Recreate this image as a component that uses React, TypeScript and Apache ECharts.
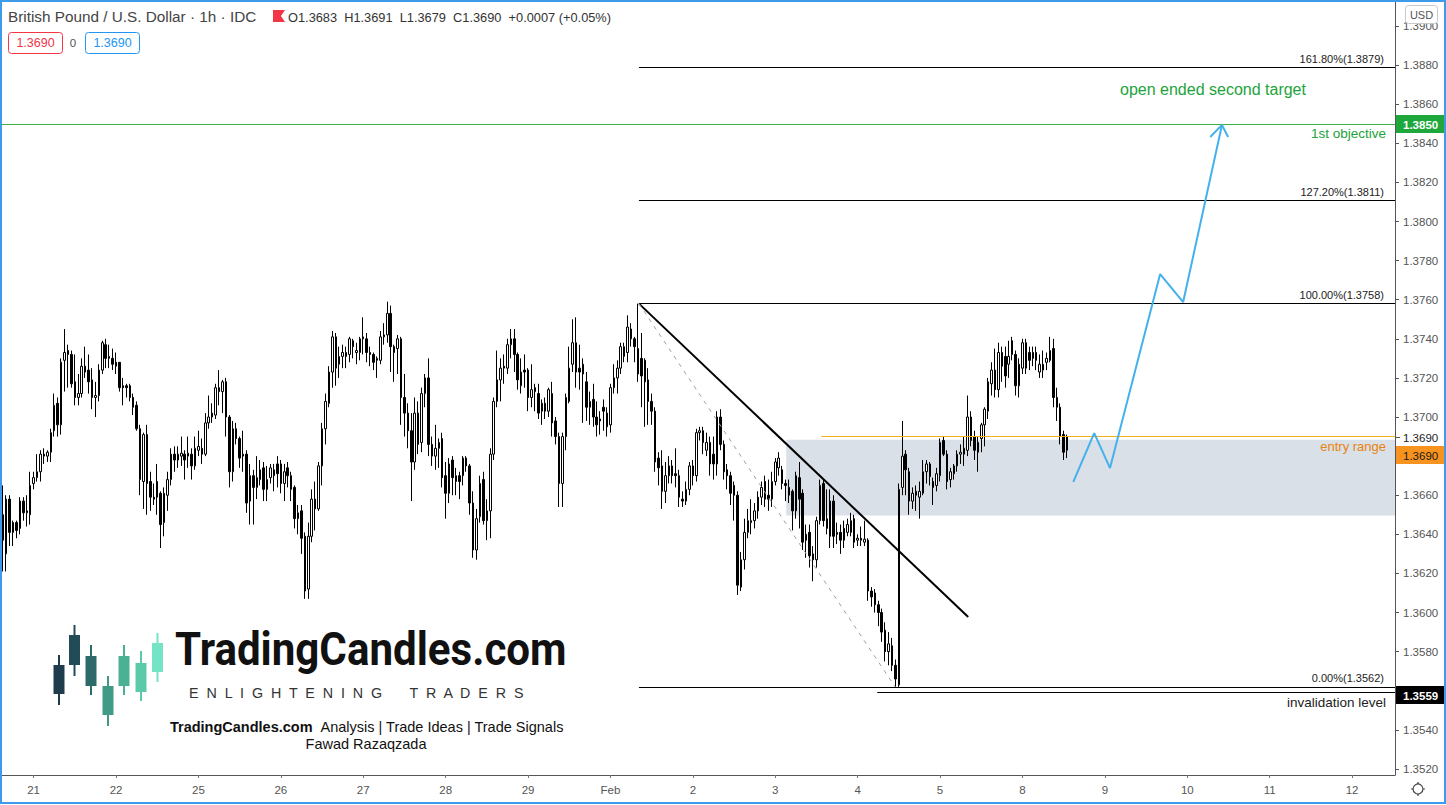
import React, { useEffect, useRef } from "react";
import * as echarts from "echarts";

// Candle = [open, close, low, high] in pips above BASE
type Candle = [number, number, number, number];
const BASE = 1.35;

const jan20: Candle[] = [
  [150,137,121,165],[130,158,121,160],[158,141,134,160],[146,141,134,147],[146,142,138,147],
  [143,157,140,159],[157,151,147,159],[151,152,144,160],[150,165,145,172],
];
const jan21: Candle[] = [
  [166,169,163,172],[169,172,167,181],[172,181,167,183],[181,180,176,184],[180,182,177,183],
  [182,192,177,194],[193,206,190,212],[207,196,190,210],[196,228,191,230],[229,233,213,245],
  [234,232,215,237],[232,217,215,234],[218,210,206,232],[210,212,206,222],[212,226,210,230],
  [226,223,220,236],[224,218,212,232],[219,210,204,225],[210,211,200,218],[211,224,208,227],
  [224,238,222,239],[237,230,225,240],[230,231,225,237],[230,227,224,235],
];
const jan22: Candle[] = [
  [228,226,222,233],[228,215,213,228],[216,215,206,220],[216,215,210,217],[216,210,208,217],
  [210,205,201,212],[206,194,193,208],[194,168,160,196],[167,191,153,192],[191,166,150,196],
  [167,159,152,172],[159,158,155,166],[167,159,150,176],[161,145,133,162],[146,161,139,164],
  [160,168,152,172],[168,181,165,184],[181,178,172,185],[178,181,174,185],[180,181.5,175,190],
  [181,178,168,183],[180,181.5,174,190],[181,175,168,184],[175,184,173,190],
];
const jan25: Candle[] = [
  [183,185,180,193],[184,181,176,189],[181,197,180,202],[197,200,194,211],[200,202,197,207],
  [201,215,199,217],[215,213,206,224],[213,218,202,219],[218,200,190,220],[200,172,164,201],
  [172,194,167,198],[194,189,186,197],[189,179,174,190],[180,181,172,193],[181,156,151,183],
  [157,170,145,176],[170,164,145,173],[164,169,158,180],[168,173,165,178],[174,163,157,177],
  [163,168,157,175],[169,174,166,176],[170,173,162,176],[176,171,164,180],
];
const jan26: Candle[] = [
  [176,166,161,178],[166,172,157,176],[174,170,164,177],[170,163,157,172],[164,148,143,165],
  [148,151,140,155],[152,138,130,155],[139,111,107,141],[112,139,107,146],[139,158,136,163],
  [158,153,142,167],[153,175,152,177],[175,194,165,197],[194,208,186,212],[207,223,205,226],
  [223,241,215,244],[241,225,216,243],[227,231,220,236],[231,233,225,237],[233,231,225,236],
  [232,240,228,241],[239,236,230,240],[233,234,227,238],[233,240,229,241],
];
const jan27: Candle[] = [
  [240,241,232,251],[240,233,228,243],[233,232,226,236],[232,228,224,233],[229,230,220,231],
  [229,241,227,244],[241,242,237,248],[242,253,238,259],[253,236,223,257],[236,233,218,237],
  [235,240,222,242],[240,210,196,241],[210,202,190,222],[202,193,184,207],[193,177,157,202],
  [177,202,173,210],[202,186,181,208],[187,212,182,215],[212,220,205,222],[220,186,180,230],
  [186,180,175,190],[180,184,173,196],[184,187,174,189],[189,169,164,192],
];
const jan28: Candle[] = [
  [170,161,148,177],[161,176,156,179],[178,169,160,180],[167,170,160,174],[170,167,158,172],
  [170,179,165,180],[179,175,172,180],[175,156,150,176],[156,132,128,162],[132,148,127,153],
  [149,166,146,170],[168,147,145,172],[147,152,137,158],[152,181,138,184],[181,208,178,210],
  [208,219,205,234],[219,225,208,230],[225,226,217,232],[225,237,222,240],[237,240,230,245],
  [240,232,223,245],[232,219,214,233],[216,223,212,230],[224,223,215,232],
];
const jan29: Candle[] = [
  [224,210,203,225],[210,214,205,227],[215,213,203,217],[212,202,199,217],[207,203,196,209],
  [207,203,199,210],[203,214,200,215],[212,197,190,218],[198,190,186,200],[190,166,154,192],
  [166,190,154,192],[190,210,183,212],[208,225,207,236],[227,238,223,250],[238,223,215,251],
  [225,223,214,237],[227,222,197,230],[218,205,198,223],[205,208,196,213],[209,200,195,217],
  [200,196,190,208],[198,199,191,203],[205,203,193,209],[202,195,190,205],
];
const feb1: Candle[] = [
  [196,215,192,217],[215,220,212,227],[220,225,212,229],[225,236,222,238],[231,236,228,238],
  [233,246,228,252],[245,240,236,248],[240,236,228,241],[235,222,218,258],[230,221,205,243],
  [229,218,195,230],[219,208,196,225],[208,203,196,212],[203,177,172,205],[179,174,165,182],
  [175,162,153,183],[162,170,156,177],[170,175,166,180],[175,170,166,178],[171,170,164,184],
  [170,159,154,173],[158,157,154,162],[157,163,155,167],[163,175,160,177],
];
const feb2: Candle[] = [
  [175,170,165,178],[170,192,167,194],[192,193,188,195],[193,187,181,195],[183,187,180,192],
  [187,176,170,190],[181,176,168,190],[176,200,170,203],[200,186,183,204],[186,172,168,188],
  [173,170,163,176],[170,161,155,172],[165,160,147,167],[160,114,109,162],[113,127,111,131],
  [127,141,122,148],[141,147,138,153],[146,147,140,158],[147,152,143,156],[152,159,148,162],
  [159,164,155,167],[167,158,154,170],[160,158,152,168],[158,167,154,172],
];
const feb3: Candle[] = [
  [167,177,165,179],[174,179,170,182],[173,166,163,175],[166,165,157,168],[164,160,156,168],
  [162,152,142,163],[152,170,148,172],[169,158,143,177],[161,136,132,163],[140,137,128,145],
  [141,129,123,145],[130,127,116,134],[127,147,123,149],[147,165,145,168],[166,147,144,168],
  [143,148,140,163],[157,139,133,163],[157,139,133,160],[140,141,135,146],[141,137,130,145],
  [143,137,133,147],[141,145,139,148],[141,147,139,151],[148,136,133,150],
];
const feb4: Candle[] = [
  [137,138,134,140],[138,137,134,144],[136,137.5,134,147],[137,111,106,138],[111,108,103,113],
  [110,104,100,112],[104,100,93,106],[100,90,85,102],[91,80,75,95],[80,84,73,90],
  [83,73,70,87],[73,66,62,76],[63,163,62,166],[164,180,160,198],[181,173,160,183],
  [172,157,150,174],[157,161,153,164],[162,160,152,165],[159,162,148,167],[161,172,160,178],
  [172,176,166,178],[176,169.5,165,177],[167,164,155,169],[165,171,162,174],
];
const feb5: Candle[] = [
  [170,187,167,189],[188,181,180,190],[181,167,163,183],[168,172,164,174],[171,175,168,176],
  [175,181,172,183],[181,182,176,186],[184,181,175,190],[183,200,180,211],[200,188,185,203],
  [190,183,178,193],[187,182,172,190],[189,196,182,197],[196,204,185,205],[203,218,199,220],
  [217,224,211,228],[224,214,210,235],[214,233,210,238],[233,226,218,236],[231,221,215,236],
  [227,231,220,239],[239,232,229,241],[232,216,211,234],[216,227,210,230],
];
const feb8: Candle[] = [
  [225,238,222,240],[238,225,222,240],[233,229,224,236],[233,230,226,236],[233,229,224,236],
  [223,227,220,232],[224,227,220,234],[228,230,224,233],[229,234,228,241],[235,210,205,240],
  [210,205,198,215],[205,190,186,207],[191,182,178,193],[183,190,179,191],
];

// Time axis: one slot per hour, trading days only, first slot is 20th 15:00
const dayNames = ["20","21","22","25","26","27","28","29","Feb","2","3","4","5","8","9","10","11","12","15"];
const FIRST_HOUR = 15;
const SLOTS = 406;

// Y axis
const Y_MIN = 1.35169;
const Y_MAX = 1.39133;
const hiddenTicks = ["1.3680", "1.3560"];

// Drawings (x in slot units, y in price)
const X_END = 405.5;
const fibStart = 185.3;
const fibLevels: [string, number][] = [
  ["161.80%(1.3879)", 1.3879],
  ["127.20%(1.3811)", 1.3811],
  ["100.00%(1.3758)", 1.3758],
  ["0.00%(1.3562)", 1.3562],
];
const objectivePrice = 1.385;
const entryPrice = 1.369;
const entryStart = 238.4;
const zoneTop = 1.36884;
const zoneBottom = 1.36496;
const zoneStart = 228.2;
const invalidationPrice = 1.3559;
const invalidationStart = 254.7;
const trendline: [number, number][] = [[185.3, 1.3758], [281.2, 1.35977]];
const swingDash: [number, number][] = [[185.3, 1.3758], [259.9, 1.3562]];
const projection: [number, number][] = [
  [311.8, 1.36668], [317.9, 1.36918], [322.5, 1.36739],
  [337.1, 1.37731], [343.8, 1.37588], [355.1, 1.38494],
];
const arrowHead: [number, number][] = [[351.7, 1.38432], [355.1, 1.38494], [356.9, 1.38432]];

const FONT = "'Liberation Sans', Arial, sans-serif";

const logoCandles: [number, number, number, number, number, string][] = [
  [59, 655, 705, 665, 694, "#1e3c4b"],
  [74.5, 625, 676, 635, 665, "#224b58"],
  [91, 645, 695, 656, 686, "#2d6a6a"],
  [108, 676, 726, 686, 715, "#3f9a86"],
  [124, 645, 695, 656, 686, "#4bb194"],
  [141, 651, 701, 663, 692, "#5ccaa8"],
  [157.5, 633, 682, 643, 672, "#74e3c6"],
];

function buildOption(): any {
  const all = [...jan20, ...jan21, ...jan22, ...jan25, ...jan26, ...jan27, ...jan28, ...jan29,
    ...feb1, ...feb2, ...feb3, ...feb4, ...feb5, ...feb8];
  const toPrice = (p: number) => +(BASE + p / 10000).toFixed(5);
  const candleData = all.map(([o, c, l, h]) => [toPrice(o), toPrice(c), toPrice(l), toPrice(h)]);
  const categories = Array.from({ length: SLOTS }, (_, i) => {
    const t = i + FIRST_HOUR;
    return `${dayNames[Math.floor(t / 24)]} ${String(t % 24).padStart(2, "0")}:00`;
  });
  const isDayStart = (index: number) => (index + FIRST_HOUR) % 24 === 0;

  const hLine = (x1: number, price: number, color: string, label: string, pos: string, lc: string, fs: number, dist: number[]) => [
    {
      coord: [x1, price],
      lineStyle: { color, width: 1, type: "solid" },
      label: { show: !!label, position: pos, formatter: label, color: lc, fontSize: fs, fontFamily: FONT, distance: dist },
    },
    { coord: [X_END, price] },
  ];

  const markLines = [
    ...fibLevels.map(([t, p]) => hLine(fibStart, p, "#000000", t, "insideEndTop", "#222222", 11, [11, 3])),
    hLine(-0.5, objectivePrice, "#3cb043", "1st objective", "insideEndBottom", "#22a33a", 13.5, [9, 3]),
    hLine(entryStart, entryPrice, "#f2b01e", "entry range", "insideEndBottom", "#e8830f", 13, [9, 3]),
    hLine(invalidationStart, invalidationPrice, "#000000", "invalidation level", "insideEndBottom", "#222222", 13.5, [9, 3]),
  ];

  const graphic: any[] = [];
  // Header
  graphic.push({ type: "text", x: 8, y: 16, z: 100, style: { text: "British Pound / U.S. Dollar · 1h · IDC", fill: "#444", fontSize: 15.3, fontFamily: FONT, verticalAlign: "middle" } });
  graphic.push({ type: "polygon", z: 100, shape: { points: [[273, 10], [285, 10], [281, 16], [285, 22], [273, 22]] }, style: { fill: "#f23645" } });
  graphic.push({ type: "text", x: 288, y: 17, z: 100, style: { text: "O1.3683  H1.3691  L1.3679  C1.3690  +0.0007 (+0.05%)", fill: "#333", fontSize: 12.8, fontFamily: FONT, verticalAlign: "middle" } });
  graphic.push({ type: "rect", z: 100, shape: { x: 8.5, y: 32.5, width: 54, height: 21, r: 3 }, style: { fill: "#fff", stroke: "#f23645", lineWidth: 1 } });
  graphic.push({ type: "text", x: 35.5, y: 43, z: 101, style: { text: "1.3690", fill: "#f23645", fontSize: 12.5, fontFamily: FONT, align: "center", verticalAlign: "middle" } });
  graphic.push({ type: "text", x: 73, y: 43, z: 101, style: { text: "0", fill: "#555", fontSize: 11.5, fontFamily: FONT, align: "center", verticalAlign: "middle" } });
  graphic.push({ type: "rect", z: 100, shape: { x: 85.5, y: 32.5, width: 54, height: 21, r: 3 }, style: { fill: "#fff", stroke: "#2196f3", lineWidth: 1 } });
  graphic.push({ type: "text", x: 112.5, y: 43, z: 101, style: { text: "1.3690", fill: "#2196f3", fontSize: 12.5, fontFamily: FONT, align: "center", verticalAlign: "middle" } });

  // Chart notes
  graphic.push({ type: "text", x: 1213, y: 89, z: 100, style: { text: "open ended second target", fill: "#22a33a", fontSize: 16, fontFamily: FONT, align: "center", verticalAlign: "middle" } });

  // Axis boxes
  graphic.push({ type: "rect", z: 100, shape: { x: 1405.5, y: 5.5, width: 32, height: 18, r: 3 }, style: { fill: "#fff", stroke: "#c8c8c8", lineWidth: 1 } });
  graphic.push({ type: "text", x: 1421.5, y: 15, z: 101, style: { text: "USD", fill: "#555", fontSize: 11, fontFamily: FONT, align: "center", verticalAlign: "middle" } });
  graphic.push({ type: "rect", z: 100, shape: { x: 1396, y: 115, width: 48, height: 18 }, style: { fill: "#1ea83c" } });
  graphic.push({ type: "text", x: 1403, y: 124.5, z: 101, style: { text: "1.3850", fill: "#fff", fontSize: 11.5, fontWeight: "bold", fontFamily: FONT, verticalAlign: "middle" } });
  graphic.push({ type: "line", z: 100, shape: { x1: 1395, y1: 437.5, x2: 1400, y2: 437.5 }, style: { stroke: "#555", lineWidth: 1 } });
  graphic.push({ type: "text", x: 1403, y: 437.5, z: 101, style: { text: "1.3690", fill: "#222", fontSize: 11.5, fontFamily: FONT, verticalAlign: "middle" } });
  graphic.push({ type: "rect", z: 100, shape: { x: 1396, y: 446, width: 48, height: 18 }, style: { fill: "#f7931e" } });
  graphic.push({ type: "text", x: 1403, y: 455.5, z: 101, style: { text: "1.3690", fill: "#1a1a1a", fontSize: 11.5, fontFamily: FONT, verticalAlign: "middle" } });
  graphic.push({ type: "rect", z: 100, shape: { x: 1396, y: 686, width: 48, height: 18 }, style: { fill: "#000" } });
  graphic.push({ type: "text", x: 1403, y: 695.5, z: 101, style: { text: "1.3559", fill: "#fff", fontSize: 11.5, fontWeight: "bold", fontFamily: FONT, verticalAlign: "middle" } });

  // Gear icon
  graphic.push({ type: "circle", z: 100, shape: { cx: 1418, cy: 789, r: 5 }, style: { fill: "none", stroke: "#444", lineWidth: 1.2 } });
  [[0, -1], [0, 1], [-1, 0], [1, 0]].forEach(([dx, dy]) => {
    graphic.push({ type: "line", z: 100, shape: { x1: 1418 + dx * 5, y1: 789 + dy * 5, x2: 1418 + dx * 7, y2: 789 + dy * 7 }, style: { stroke: "#444", lineWidth: 1.2 } });
  });

  // Logo
  logoCandles.forEach(([cx, wt, wb, bt, bb, col]) => {
    graphic.push({ type: "rect", z: 90, shape: { x: cx - 1, y: wt, width: 2, height: wb - wt }, style: { fill: col } });
    graphic.push({ type: "rect", z: 91, shape: { x: cx - 5.5, y: bt, width: 11, height: bb - bt }, style: { fill: col } });
  });
  graphic.push({ type: "text", x: 175, y: 649, z: 90, scaleX: 0.915, style: { text: "TradingCandles.com", fill: "#111", fontSize: 46, fontWeight: "bold", fontFamily: "Roboto, 'Liberation Sans', sans-serif", verticalAlign: "middle" } });
  graphic.push({ type: "text", x: 189, y: 693, z: 90, scaleX: 1.02, style: { text: "E  N  L  I  G  H  T  E  N  I  N  G       T  R  A  D  E  R  S", fill: "#333", fontSize: 14, fontFamily: FONT, verticalAlign: "middle" } });
  graphic.push({ type: "text", x: 367, y: 727, z: 90, style: { text: "{b|TradingCandles.com}  Analysis | Trade Ideas | Trade Signals", rich: { b: { fontWeight: "bold", fontSize: 14.5, fontFamily: FONT, fill: "#111" } }, fill: "#111", fontSize: 14.5, fontFamily: FONT, align: "center", verticalAlign: "middle" } });
  graphic.push({ type: "text", x: 366, y: 744, z: 90, style: { text: "Fawad Razaqzada", fill: "#111", fontSize: 14.5, fontFamily: FONT, align: "center", verticalAlign: "middle" } });

  // Frame
  graphic.push({ type: "rect", z: 120, shape: { x: 1, y: 1, width: 1444, height: 802 }, style: { fill: "none", stroke: "#3d9be9", lineWidth: 2 } });

  return {
    animation: false,
    backgroundColor: "#ffffff",
    grid: { left: 1, right: 51, top: 0, bottom: 30, containLabel: false },
    xAxis: [
      {
        type: "category",
        data: categories,
        boundaryGap: true,
        axisLine: { show: true, lineStyle: { color: "#555", width: 1 } },
        axisTick: { show: true, interval: isDayStart, alignWithLabel: true, length: 3, lineStyle: { color: "#777" } },
        axisLabel: { interval: isDayStart, formatter: (v: string) => v.split(" ")[0], color: "#555", fontSize: 11.5, fontFamily: FONT, margin: 9 },
        splitLine: { show: false },
      },
      { type: "value", min: -0.5, max: X_END, show: false },
    ],
    yAxis: {
      type: "value",
      position: "right",
      min: Y_MIN,
      max: Y_MAX,
      splitNumber: 20,
      minInterval: 0.002,
      maxInterval: 0.002,
      axisLine: { show: true, onZero: false, lineStyle: { color: "#555", width: 1 } },
      axisTick: { show: true, length: 4, lineStyle: { color: "#555" } },
      axisLabel: {
        show: true, color: "#555", fontSize: 11.5, fontFamily: FONT, margin: 8,
        showMinLabel: false, showMaxLabel: false,
        formatter: (v: number) => { const s = v.toFixed(4); return hiddenTicks.includes(s) ? "" : s; },
      },
      splitLine: { show: false },
    },
    series: [
      {
        type: "line", name: "zone", xAxisIndex: 1, data: [], z: 1, symbol: "none",
        markArea: {
          silent: true,
          itemStyle: { color: "rgba(120,144,170,0.28)" },
          data: [[{ coord: [zoneStart, zoneTop] }, { coord: [X_END, zoneBottom] }]],
        },
      },
      {
        type: "candlestick", name: "GBPUSD", xAxisIndex: 0, data: candleData, z: 3, barWidth: 2,
        itemStyle: { color: "#ffffff", color0: "#000000", borderColor: "#000000", borderColor0: "#000000", borderWidth: 1 },
      },
      {
        type: "line", name: "levels", xAxisIndex: 1, data: [], z: 4, symbol: "none",
        markLine: { silent: true, symbol: ["none", "none"], data: markLines },
      },
      { type: "line", name: "trend", xAxisIndex: 1, data: trendline, z: 5, symbol: "none", lineStyle: { color: "#000", width: 2 } },
      { type: "line", name: "swing", xAxisIndex: 1, data: swingDash, z: 5, symbol: "none", lineStyle: { color: "#a0a0a0", width: 1, type: [4, 5] } },
      { type: "line", name: "projection", xAxisIndex: 1, data: projection, z: 5, symbol: "none", lineStyle: { color: "#45b1ec", width: 2 } },
      { type: "line", name: "arrow", xAxisIndex: 1, data: arrowHead, z: 5, symbol: "none", lineStyle: { color: "#45b1ec", width: 2 } },
    ],
    graphic,
  };
}

export default function App() {
  const ref = useRef<HTMLDivElement>(null);
  useEffect(() => {
    const el = ref.current;
    if (!el) return;
    const chart = echarts.init(el, null, { renderer: "svg" });
    chart.setOption(buildOption());
    return () => chart.dispose();
  }, []);
  return (
    <div
      ref={ref}
      style={{ position: "absolute", left: 0, top: 0, width: 1446, height: 805, background: "#fff" }}
    />
  );
}
